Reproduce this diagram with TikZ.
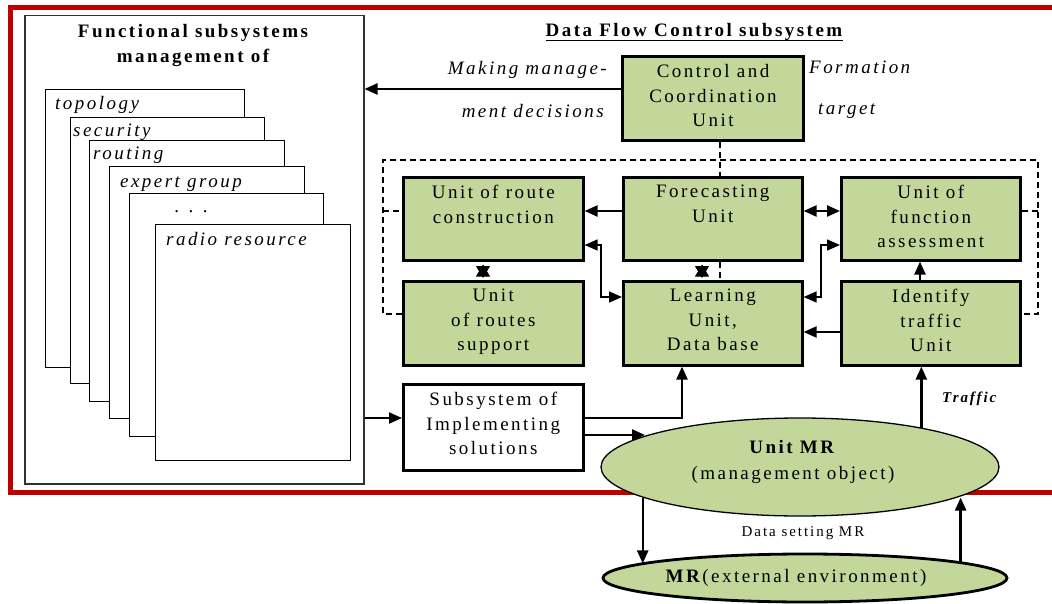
\documentclass[tikz,border=0pt]{standalone}
\usepackage{fontspec}
\setmainfont[LetterSpace=13]{Liberation Serif}
\usetikzlibrary{arrows.meta,shapes.geometric}
\definecolor{boxgreen}{RGB}{196,215,155}
\definecolor{framered}{RGB}{192,0,0}
\definecolor{framegray}{RGB}{50,50,50}
\tikzset{
  txt/.style={font=\fontsize{19}{24.5}\selectfont},
  itxt/.style={font=\fontsize{19}{24.5}\selectfont\itshape},
  gbox/.style={draw, line width=2.6pt, fill=boxgreen, anchor=north west, inner sep=0pt},
  wbox/.style={draw, line width=2.6pt, fill=white, anchor=north west, inner sep=0pt},
  toptext/.style={label={[anchor=north, align=center, inner sep=0pt, yshift=-9.2pt, txt]north:#1}},
  pagebox/.style={draw, line width=1.2pt, fill=white, anchor=north west, inner sep=0pt},
  pagelabel/.style={anchor=base west, inner sep=0pt, itxt},
  arr/.style={->, line width=2.4pt},
  tarr/.style={<->, line width=1.4pt},
  sthead/.style={-{Triangle[length=12pt,width=14pt]}, line width=1pt, shorten <=3pt, shorten >=#1},
  dsh/.style={line width=1.8pt, dash pattern=on 6pt off 4pt}
}
\begin{document}
\begin{tikzpicture}[x=1pt,y=-1pt, >={Triangle[length=13pt,width=11pt]}]
\useasboundingbox (0,0) rectangle (1052,604);
% red frame
\draw[framered, line width=5pt] (10,7.5) rectangle (1075,492.5);
% functional subsystems
\node[draw=framegray, line width=1.5pt, anchor=north west, inner sep=0pt, minimum width=339pt, minimum height=468pt] (fs) at (24,15) {};
\node[anchor=north, inner sep=0pt, align=center, font=\fontsize{19}{25}\selectfont\bfseries] (fst) at (193,24.3) {Functional subsystems\\management of};
\node[pagebox, minimum width=199pt, minimum height=278pt] (p1) at (45,89) {};
\node[pagelabel] (l1) at (55,110) {topology};
\node[pagebox, minimum width=194pt, minimum height=266pt] (p2) at (70,117) {};
\node[pagelabel] (l2) at (73,137) {security};
\node[pagebox, minimum width=195pt, minimum height=261pt] (p3) at (89,140) {};
\node[pagelabel] (l3) at (93,160) {routing};
\node[pagebox, minimum width=195pt, minimum height=252pt] (p4) at (109,166) {};
\node[pagelabel] (l4) at (120,188) {expert group};
\node[pagebox, minimum width=194pt, minimum height=243pt] (p5) at (129,193) {};
\node[anchor=base, inner sep=0pt, txt] (l5) at (191,213) {. . .};
\node[pagebox, minimum width=195pt, minimum height=236pt] (p6) at (155,224) {};
\node[pagelabel] (l6) at (166,246) {radio resource};
% title
\node[anchor=base, inner sep=0pt, font=\fontsize{19}{24}\selectfont\bfseries] (dfc) at (694,37) {Data Flow Control subsystem};
\draw[line width=1.6pt] ([yshift=-3.5pt]dfc.base west) -- ([yshift=-3.5pt]dfc.base east);
% green boxes
\node[gbox, line width=3pt, minimum width=181pt, minimum height=84pt, toptext={Control and\\Coordination\\Unit}] (cc) at (621,55) {};
\node[gbox, minimum width=180pt, minimum height=83pt, toptext={Unit of route\\construction}] (route) at (402,176) {};
\node[gbox, minimum width=179pt, minimum height=83pt, toptext={Forecasting\\Unit}] (fore) at (622,176) {};
\node[gbox, minimum width=179pt, minimum height=83pt, toptext={Unit of\\function\\assessment}] (func) at (840,176) {};
\node[gbox, minimum width=180pt, minimum height=84pt, toptext={Unit\\of routes\\support}] (support) at (402,280) {};
\node[gbox, minimum width=179pt, minimum height=84pt, toptext={Learning\\Unit,\\Data base}] (learn) at (622,280) {};
\node[gbox, minimum width=179pt, minimum height=84pt, toptext={Identify\\traffic\\Unit}] (ident) at (840,280) {};
\node[wbox, minimum width=180pt, minimum height=86pt, toptext={Subsystem of\\Implementing\\solutions}] (sub) at (402,383) {};
% dashed frame
\draw[dsh] (support.west |- 0,314) -- (383,314) -- (383,160) -- (1038,160) -- (1038,314) -- (ident.east |- 0,314);
\draw[dsh] (383,211) -- (route.west |- 0,211);
\draw[dsh] (1038,211) -- (func.east |- 0,211);
\draw[dsh] (cc.south -| 720,0) -- (fore.north -| 720,0);
\draw[dsh] (fore.south -| 720,0) -- (learn.north -| 720,0);
% ellipses
\node[ellipse, draw, line width=1.3pt, fill=boxgreen, minimum width=398pt, minimum height=98pt, inner sep=0pt] (umr) at (800,467) {};
\node[ellipse, draw, line width=2.8pt, fill=boxgreen, minimum width=404pt, minimum height=48pt, inner sep=0pt] (mr) at (805,578) {};
\node[txt, align=center, inner sep=0pt, font=\fontsize{19}{26}\selectfont] (umrt) at (793,462) {\textbf{Unit MR}\\(management object)};
\node[txt, inner sep=0pt] (mrt) at (796,578) {\textbf{MR}(external environment)};
% labels
\node[itxt, anchor=base east, inner sep=0pt] (mk1) at (607,75) {Making manage-};
\node[itxt, anchor=base east, inner sep=0pt] (mk2) at (604,118) {ment decisions};
\node[itxt, anchor=base west, inner sep=0pt] (fo1) at (809,74) {Formation};
\node[itxt, anchor=base west, inner sep=0pt] (fo2) at (818,115) {target};
\node[anchor=base west, inner sep=0pt, font=\fontsize{15}{18}\selectfont\bfseries\itshape] (traf) at (942,402) {Traffic};
\node[anchor=base, inner sep=0pt, font=\fontsize{15}{18}\selectfont] (dsm) at (803,536) {Data setting MR};
% connectors
\draw[arr] (cc.west |- 0,89) -- (fs.east |- 0,89);
\draw[arr] (fore.west |- 0,211) -- (route.east |- 0,211);
\draw[tarr] (route.east |- 0,245) -- (601,245) -- (601,297) -- (learn.west |- 0,297);
\draw[sthead=3pt] (support.north -| 483,0) -- (route.south -| 483,0);
\draw[sthead=2pt] (route.south -| 483,0) -- (support.north -| 483,0);
\draw[sthead=3pt] (learn.north -| 702,0) -- (fore.south -| 702,0);
\draw[sthead=2pt] (fore.south -| 702,0) -- (learn.north -| 702,0);
\draw[arr, <->] (fore.east |- 0,211) -- (func.west |- 0,211);
\draw[tarr] (learn.east |- 0,297) -- (821,297) -- (821,245) -- (func.west |- 0,245);
\draw[arr] (ident.west |- 0,332) -- (learn.east |- 0,332);
\draw[arr] (ident.north -| 920,0) -- (func.south -| 920,0);
\draw[arr] (umr.18) -- (ident.south -| umr.18);
\draw[arr, line width=2pt] (fs.east |- 0,418) -- (sub.west |- 0,418);
\draw[arr] (sub.east |- 0,418) -| (learn.south -| 682,0);
\coordinate (umrin) at (645,435);
\draw[arr] (sub.east |- umrin) -- (umrin);
\draw[arr] (umr.191) -- (umr.191 |- mr.175);
\draw[arr] (mr.6) -- (mr.6 |- umr.349);
\end{tikzpicture}
\end{document}
